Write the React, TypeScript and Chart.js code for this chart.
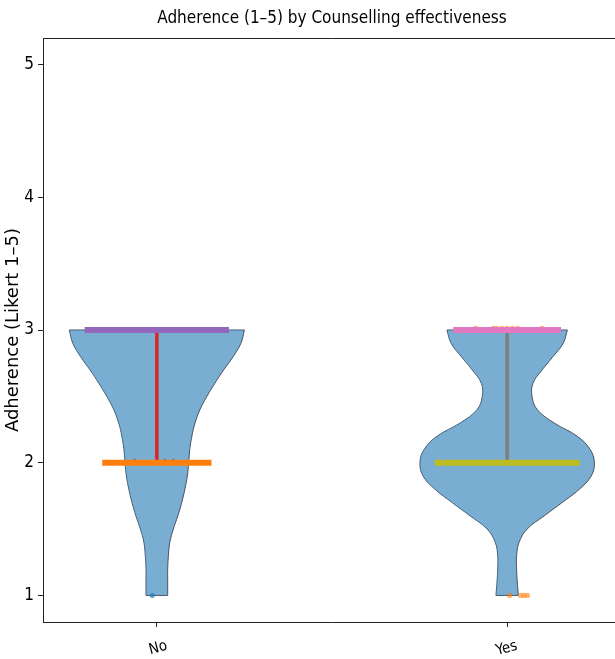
import React, { useEffect, useRef } from 'react';
import { Chart, registerables } from 'chart.js';

Chart.register(...registerables);

// ---- data ----
const categories = ['No', 'Yes'];
const yTickValues = [1, 2, 3, 4, 5];
// y positions at which the violin half-widths were read
const densityY = [1.0, 1.1, 1.2, 1.3, 1.4, 1.5, 1.6, 1.7, 1.8, 1.9, 2.0, 2.1, 2.2, 2.3, 2.4, 2.5, 2.6, 2.7, 2.8, 2.9, 3.0];
// half-widths of each violin (x units, max 0.25)
const noHalfWidth = [0.031, 0.031, 0.031, 0.033, 0.037, 0.047, 0.060, 0.071, 0.080, 0.087, 0.091, 0.094, 0.100, 0.109, 0.123, 0.143, 0.166, 0.191, 0.218, 0.240, 0.250];
const yesHalfWidth = [0.032, 0.029, 0.027, 0.027, 0.034, 0.057, 0.106, 0.157, 0.206, 0.240, 0.249, 0.237, 0.200, 0.134, 0.086, 0.071, 0.074, 0.100, 0.131, 0.160, 0.172];
// horizontal markers
const topBarY = [3, 3];
const topBarHalf = [0.206, 0.154];
const topBarColors = ['#9467bd', '#e377c2'];
const midBarY = [2, 2];
const midBarHalf = [0.156, 0.207];
const midBarColors = ['#ff7f0e', '#bcbd22'];
// vertical stems
const stemLow = [2, 2];
const stemHigh = [3, 3];
const stemColors = ['#d62728', '#7f7f7f'];
// jittered strip points (offset from category position)
const noStripX = [-0.013, -0.063, 0.023, 0.047];
const noStripY = [1.0, 2.02, 2.02, 2.02];
const yesStripX = [0.007, 0.038, 0.048, 0.058, -0.09, -0.04, -0.03, -0.015, 0.0, 0.015, 0.03, 0.1];
const yesStripY = [1.0, 1.0, 1.0, 1.0, 3.012, 3.012, 3.012, 3.012, 3.012, 3.012, 3.012, 3.012];

const VIOLIN_FILL = 'rgba(31,119,180,0.6)';
const VIOLIN_EDGE = 'rgba(50,60,70,0.85)';
const AXIS = '#222';
const COND = '"DejaVu Sans Condensed", "DejaVu Sans", sans-serif';

export default function App() {
  const ref = useRef<HTMLCanvasElement>(null);

  useEffect(() => {
    const canvas = ref.current;
    if (!canvas) return;
    const widths = [noHalfWidth, yesHalfWidth];
    const datasets: any[] = [];
    const last = densityY.length - 1;

    categories.forEach((_, i) => {
      const hw = widths[i];
      datasets.push({
        data: densityY.map((y, k) => ({ x: i + hw[k], y })),
        fill: '+1',
        backgroundColor: VIOLIN_FILL,
        borderColor: VIOLIN_EDGE,
        borderWidth: 1,
        pointRadius: 0,
        tension: 0.4,
        order: 10,
      });
      datasets.push({
        data: densityY.map((y, k) => ({ x: i - hw[k], y })),
        fill: false,
        borderColor: VIOLIN_EDGE,
        borderWidth: 1,
        pointRadius: 0,
        tension: 0.4,
        order: 10,
      });
      [0, last].forEach((k) => {
        datasets.push({
          data: [
            { x: i - hw[k], y: densityY[k] },
            { x: i + hw[k], y: densityY[k] },
          ],
          fill: false,
          borderColor: VIOLIN_EDGE,
          borderWidth: 1,
          pointRadius: 0,
          tension: 0,
          order: 10,
        });
      });
    });

    // strip points
    datasets.push({
      data: noStripX.map((dx, k) => ({ x: 0 + dx, y: noStripY[k] })),
      showLine: false,
      pointRadius: [2.5, 1.5, 1.5, 1.5],
      pointBackgroundColor: ['rgba(31,119,180,0.7)', 'rgba(60,80,100,0.5)', 'rgba(60,80,100,0.5)', 'rgba(60,80,100,0.5)'],
      pointBorderWidth: 0,
      fill: false,
      order: 5,
    });
    datasets.push({
      data: yesStripX.map((dx, k) => ({ x: 1 + dx, y: yesStripY[k] })),
      showLine: false,
      pointRadius: 2.6,
      pointBackgroundColor: 'rgba(255,127,14,0.6)',
      pointBorderWidth: 0,
      fill: false,
      order: 5,
    });

    // stems
    categories.forEach((_, i) => {
      datasets.push({
        data: [
          { x: i, y: stemLow[i] },
          { x: i, y: stemHigh[i] },
        ],
        borderColor: stemColors[i],
        borderWidth: 3.5,
        pointRadius: 0,
        fill: false,
        tension: 0,
        order: 2,
      });
    });
    // bars
    categories.forEach((_, i) => {
      datasets.push({
        data: [
          { x: i - topBarHalf[i], y: topBarY[i] },
          { x: i + topBarHalf[i], y: topBarY[i] },
        ],
        borderColor: topBarColors[i],
        borderWidth: 6,
        borderCapStyle: 'butt',
        pointRadius: 0,
        fill: false,
        tension: 0,
        order: 1,
      });
      datasets.push({
        data: [
          { x: i - midBarHalf[i], y: midBarY[i] },
          { x: i + midBarHalf[i], y: midBarY[i] },
        ],
        borderColor: midBarColors[i],
        borderWidth: 6,
        borderCapStyle: 'butt',
        pointRadius: 0,
        fill: false,
        tension: 0,
        order: 1,
      });
    });

    const chart = new Chart(canvas, {
      type: 'line',
      data: { datasets },
      options: {
        animation: false,
        responsive: false,
        indexAxis: 'y',
        layout: { padding: { left: 0, right: 9, top: 0, bottom: 0 } },
        plugins: {
          legend: { display: false },
          tooltip: { enabled: false },
          title: {
            display: true,
            text: 'Adherence (1–5) by Counselling effectiveness',
            fullSize: false,
            color: '#000',
            font: { family: COND, size: 17, weight: 'normal', lineHeight: 1.2 },
            padding: { top: 8, bottom: 9.6 },
          },
        },
        scales: {
          x: {
            type: 'linear',
            position: 'bottom',
            min: -0.325,
            max: 1.325,
            afterBuildTicks: (s: any) => {
              s.ticks = categories.map((_, i) => ({ value: i }));
            },
            afterFit: (s: any) => {
              s.height = 37;
            },
            ticks: {
              autoSkip: false,
              minRotation: 15,
              maxRotation: 15,
              labelOffset: 10,
              padding: 10,
              color: '#000',
              font: { family: COND, size: 15 },
              callback: (v: any) => categories[v as number] ?? '',
            },
            grid: { drawOnChartArea: false, tickLength: 5, color: AXIS },
            border: { color: AXIS, width: 1 },
          },
          x2: {
            type: 'linear',
            position: 'top',
            min: -0.325,
            max: 1.325,
            grid: { display: false },
            ticks: { display: false },
            border: { display: true, color: AXIS, width: 1 },
            afterFit: (s: any) => {
              s.height = 0;
            },
          },
          y: {
            type: 'linear',
            position: 'left',
            min: 0.8,
            max: 5.2,
            afterBuildTicks: (s: any) => {
              s.ticks = yTickValues.map((v) => ({ value: v }));
            },
            afterFit: (s: any) => {
              s.width = 43;
            },
            ticks: {
              padding: 4,
              color: '#000',
              font: { family: COND, size: 17 },
              callback: (v: any) => String(v),
            },
            grid: { drawOnChartArea: false, tickLength: 5, color: AXIS },
            border: { color: AXIS, width: 1 },
            title: {
              display: true,
              text: 'Adherence (Likert 1–5)',
              color: '#000',
              font: { family: '"DejaVu Sans", sans-serif', size: 18, lineHeight: 1.2 },
              padding: { top: 3, bottom: 0 },
            },
          },
        },
      },
    });
    return () => chart.destroy();
  }, []);

  return (
    <div style={{ position: 'absolute', left: 0, top: 0, width: 615, height: 659, overflow: 'hidden', background: '#fff' }}>
      <canvas ref={ref} width={630} height={659} style={{ display: 'block' }} />
    </div>
  );
}
